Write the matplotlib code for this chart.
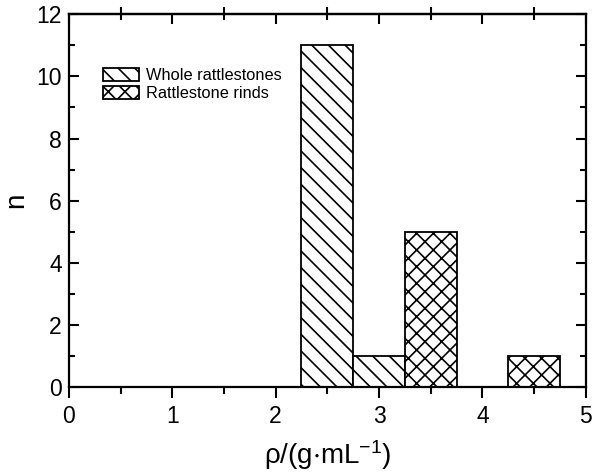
import matplotlib
matplotlib.use('Agg')
import matplotlib.pyplot as plt
from matplotlib.ticker import MultipleLocator

plt.rcParams['font.family'] = ['Liberation Sans', 'DejaVu Sans']
plt.rcParams['hatch.linewidth'] = 1.2

# histogram data (bin centers, counts)
whole_x = [2.5, 3.0]
whole_n = [11, 1]
rind_x = [3.5, 4.5]
rind_n = [5, 1]
bin_width = 0.5

fig = plt.figure(figsize=(6.09, 4.74), dpi=100)
ax = fig.add_axes([0.113, 0.183, 0.849, 0.787])

ax.bar(whole_x, whole_n, width=bin_width, color='white', edgecolor='black',
       hatch='\\\\', linewidth=1.3, label='Whole rattlestones')
ax.bar(rind_x, rind_n, width=bin_width, color='white', edgecolor='black',
       hatch='xx', linewidth=1.3, label='Rattlestone rinds')

ax.set_xlim(0, 5)
ax.set_ylim(0, 12)
ax.xaxis.set_major_locator(MultipleLocator(1))
ax.xaxis.set_minor_locator(MultipleLocator(0.5))
ax.yaxis.set_major_locator(MultipleLocator(2))
ax.yaxis.set_minor_locator(MultipleLocator(1))
# left/top/right ticks point in, bottom ticks point out
ax.tick_params(which='both', direction='in', top=True, right=True, width=1.5,
               labelsize=16.5)
ax.tick_params(axis='x', which='both', direction='out')
ax.tick_params(axis='x', which='major', length=8, pad=5)
ax.tick_params(axis='x', which='minor', length=5)
ax.tick_params(axis='y', which='major', length=7, pad=5)
ax.tick_params(axis='y', which='minor', length=4)
# top axis ticks go inward too
sec = ax.secondary_xaxis('top')
sec.xaxis.set_major_locator(MultipleLocator(1))
sec.xaxis.set_minor_locator(MultipleLocator(0.5))
sec.tick_params(which='both', direction='in', width=1.5, labeltop=False)
sec.tick_params(which='major', length=7)
sec.tick_params(which='minor', length=4)
sec.spines['top'].set_linewidth(1.6)
ax.tick_params(axis='x', top=False)
for s in ax.spines.values():
    s.set_linewidth(1.6)

ax.set_xlabel(r'$\mathregular{\rho/(g{\cdot}mL^{-1})}$', fontsize=20, labelpad=7)
ax.set_ylabel('n', fontsize=20, labelpad=5)

leg = ax.legend(loc='upper left', bbox_to_anchor=(0.053, 0.873), frameon=False,
                fontsize=11.8, handlelength=2.2, handleheight=0.85,
                handletextpad=0.45, labelspacing=0.15, borderaxespad=0)

fig.savefig('out.png', dpi=100)
